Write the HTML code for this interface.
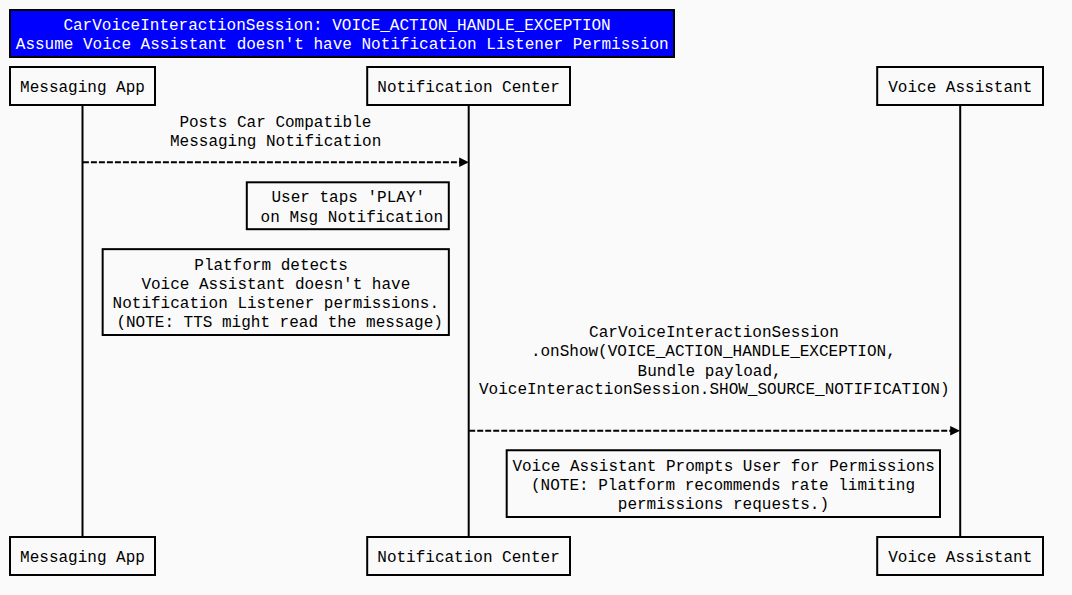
<!DOCTYPE html>
<html><head><meta charset="utf-8"><title>CarVoiceInteractionSession sequence</title>
<style>
html,body{margin:0;padding:0;background:#fafafa;width:1072px;height:595px;overflow:hidden}
svg{display:block}
text{font-family:"Liberation Mono",monospace;font-size:16px;white-space:pre;letter-spacing:0.0px}
</style></head><body>
<svg width="1072" height="595" viewBox="0 0 1072 595">
<rect x="0" y="0" width="1072" height="595" fill="#fafafa"/>
<line x1="82.5" y1="106" x2="82.5" y2="536" stroke="#000" stroke-width="2"/>
<line x1="468.7" y1="106" x2="468.7" y2="536" stroke="#000" stroke-width="2"/>
<line x1="960.2" y1="106" x2="960.2" y2="536" stroke="#000" stroke-width="2"/>
<line x1="82.9" y1="162.2" x2="460" y2="162.2" stroke="#000" stroke-width="2" stroke-dasharray="6 2"/>
<path d="M459.2 157.5 L468.9 162.2 L459.2 166.9 Z" fill="#000"/>
<line x1="469.2" y1="430.7" x2="951" y2="430.7" stroke="#000" stroke-width="2" stroke-dasharray="6 2"/>
<path d="M950.2 426 L960.1 430.7 L950.2 435.4 Z" fill="#000"/>
<rect x="10" y="10" width="664" height="47" fill="#0000ff" stroke="#000" stroke-width="2"/>
<rect x="10" y="67" width="145" height="38" fill="#fafafa" stroke="#000" stroke-width="2"/>
<rect x="10" y="537" width="145" height="38" fill="#fafafa" stroke="#000" stroke-width="2"/>
<rect x="367.2" y="67" width="202.8" height="38" fill="#fafafa" stroke="#000" stroke-width="2"/>
<rect x="367.2" y="537" width="202.8" height="38" fill="#fafafa" stroke="#000" stroke-width="2"/>
<rect x="877.2" y="67" width="165.8" height="38" fill="#fafafa" stroke="#000" stroke-width="2"/>
<rect x="877.2" y="537" width="165.8" height="38" fill="#fafafa" stroke="#000" stroke-width="2"/>
<rect x="246.8" y="182.3" width="202" height="46.9" fill="#fafafa" stroke="#000" stroke-width="2"/>
<rect x="102.65" y="249.15" width="346.2" height="85.85" fill="#fafafa" stroke="#000" stroke-width="2"/>
<rect x="506.7" y="450.25" width="433.3" height="66.75" fill="#fafafa" stroke="#000" stroke-width="2"/>
<text x="63.4" y="29.7" fill="#fff">CarVoiceInteractionSession: VOICE_ACTION_HANDLE_EXCEPTION</text>
<text x="15.8" y="49.2" fill="#fff">Assume Voice Assistant doesn't have Notification Listener Permission</text>
<text x="20.1" y="92" fill="#000">Messaging App</text>
<text x="20.1" y="562" fill="#000">Messaging App</text>
<text x="377.3" y="92" fill="#000">Notification Center</text>
<text x="377.3" y="562" fill="#000">Notification Center</text>
<text x="888.25" y="92" fill="#000">Voice Assistant</text>
<text x="888.25" y="562" fill="#000">Voice Assistant</text>
<text x="179.4" y="127" fill="#000">Posts Car Compatible</text>
<text x="170.0" y="146.1" fill="#000">Messaging Notification</text>
<text x="271.5" y="201.7" fill="#000">User taps 'PLAY'</text>
<text x="260.6" y="222.3" fill="#000">on Msg Notification</text>
<text x="194.3" y="270" fill="#000">Platform detects</text>
<text x="141.4" y="289" fill="#000">Voice Assistant doesn't have</text>
<text x="112.6" y="308" fill="#000">Notification Listener permissions.</text>
<text x="116.4" y="327" fill="#000">(NOTE: TTS might read the message)</text>
<text x="589.1" y="336.9" fill="#000">CarVoiceInteractionSession</text>
<text x="530.9" y="356.1" fill="#000">.onShow(VOICE_ACTION_HANDLE_EXCEPTION,</text>
<text x="637.6" y="375.5" fill="#000">Bundle payload,</text>
<text x="479" y="394.4" fill="#000">VoiceInteractionSession.SHOW_SOURCE_NOTIFICATION)</text>
<text x="512.4" y="470.7" fill="#000">Voice Assistant Prompts User for Permissions</text>
<text x="531" y="489.9" fill="#000">(NOTE: Platform recommends rate limiting</text>
<text x="617.8" y="508.5" fill="#000">permissions requests.)</text>
</svg>
</body></html>
